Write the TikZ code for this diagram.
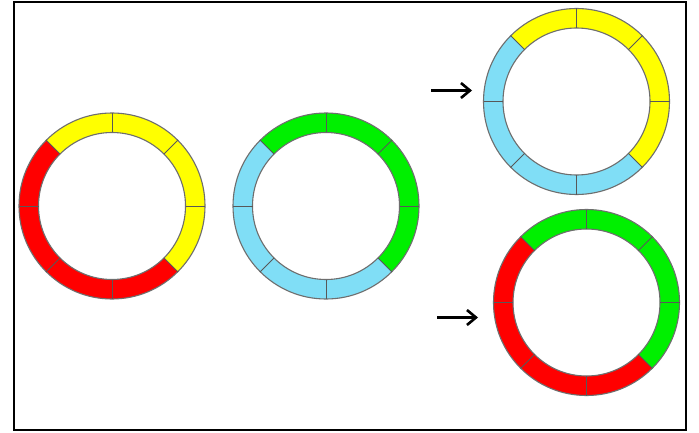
\documentclass[tikz,border=0pt]{standalone}
\usetikzlibrary{arrows.meta}
\definecolor{ringyellow}{RGB}{255,255,0}
\definecolor{ringred}{RGB}{255,0,0}
\definecolor{ringgreen}{RGB}{0,240,0}
\definecolor{ringcyan}{RGB}{128,222,246}
\definecolor{ringline}{RGB}{110,110,110}
\newcommand{\myring}[4]{%
  \begin{scope}[shift={(#1)}]
    \foreach \a in {135,90,45,0}{
      \fill[#3] (\a:93) arc[start angle=\a, end angle=\a-45, radius=93]
        -- (\a-45:73.5) arc[start angle=\a-45, end angle=\a, radius=73.5] -- cycle;
    }
    \foreach \a in {-45,-90,-135,-180}{
      \fill[#4] (\a:93) arc[start angle=\a, end angle=\a-45, radius=93]
        -- (\a-45:73.5) arc[start angle=\a-45, end angle=\a, radius=73.5] -- cycle;
    }
    \draw[ringedge] (0,0) circle[radius=93] (0,0) circle[radius=73.5];
    \foreach \a in {0,45,...,315}{
      \draw[ringdiv] (\a:73.5) -- (\a:93);
    }
    \coordinate (#2) at (0,0);
  \end{scope}}
\tikzset{
  ringedge/.style={draw=ringline, line width=1.1pt},
  ringdiv/.style={draw=ringline!80!black, line width=0.9pt},
  pointer/.style={-{Straight Barb[length=9pt,width=15pt,line width=2.6pt]}, line width=3pt, black},
  frame/.style={draw=black, line width=2pt}
}
\begin{document}
\begin{tikzpicture}[x=1pt,y=1pt]
  \useasboundingbox (0,0) rectangle (699,432);
  \fill[white] (0,0) rectangle (699,432);
  \draw[frame] (14,2) rectangle (686,430);
  \myring{112,226}{r1}{ringyellow}{ringred}
  \myring{326,226}{r2}{ringgreen}{ringcyan}
  \myring{576.5,330.5}{r3}{ringyellow}{ringcyan}
  \myring{586.5,129.5}{r4}{ringgreen}{ringred}
  \coordinate (a1s) at (431,341.5);
  \coordinate (a1e) at (472,341.5);
  \coordinate (a2s) at (437,114.5);
  \coordinate (a2e) at (478,114.5);
  \draw[pointer] (a1s) -- (a1e);
  \draw[pointer] (a2s) -- (a2e);
\end{tikzpicture}
\end{document}
